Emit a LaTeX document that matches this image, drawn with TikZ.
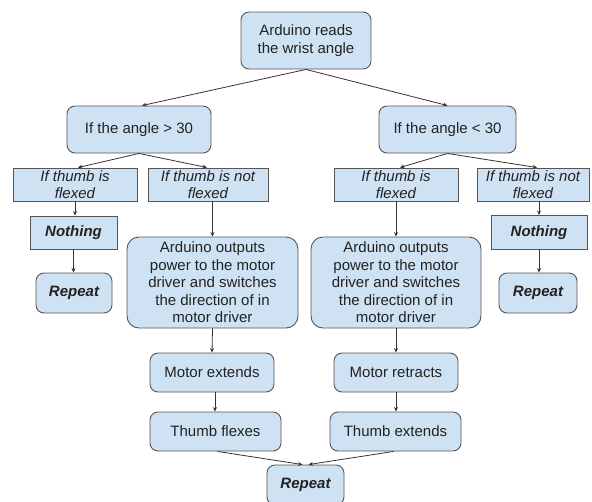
\documentclass[tikz,border=0pt]{standalone}
\usepackage{fontspec}
\setmainfont{Liberation Sans}
\usetikzlibrary{arrows.meta}
\definecolor{boxfill}{HTML}{CFE2F3}
\definecolor{boxline}{HTML}{555555}
\definecolor{txt}{HTML}{222222}
\definecolor{arr}{HTML}{333333}
\tikzset{
  base/.style={draw=boxline, fill=boxfill, line width=0.9pt, text=txt, align=center,
    inner sep=0pt, font=\fontsize{15}{17.5}\selectfont},
  rbox/.style={base, rounded corners=8pt},
  sbox/.style={base},
  sz/.style 2 args={minimum width=#1pt, minimum height=#2pt},
  conn/.style={draw=arr, line width=0.8pt, -{Stealth[length=4.5pt,width=4pt]}}
}
\begin{document}
\begin{tikzpicture}[x=1pt,y=-1pt]
\useasboundingbox (0,0) rectangle (592,501);
\clip (0,0) rectangle (592,501);
\node[rbox, sz={130}{57}] (top) at (306,40.5) {Arduino reads\\the wrist angle};
\node[rbox, sz={144}{47}] (gt) at (139,129.5) {If the angle > 30};
\node[rbox, sz={137}{47}] (lt) at (447.5,129.5) {If the angle < 30};
\node[sbox, sz={124}{33}, font=\fontsize{15}{17.5}\selectfont\itshape] (fl1) at (75,184.5) {If thumb is\\flexed};
\node[sbox, sz={120}{33}, font=\fontsize{15}{17.5}\selectfont\itshape] (nf1) at (208,184.5) {If thumb is not\\flexed};
\node[sbox, sz={124}{33}, font=\fontsize{15}{17.5}\selectfont\itshape] (fl2) at (396,184.5) {If thumb is\\flexed};
\node[sbox, sz={112}{33}, font=\fontsize{15}{17.5}\selectfont\itshape] (nf2) at (533,184.5) {If thumb is not\\flexed};
\node[sbox, sz={87}{33}, font=\fontsize{15}{17.5}\selectfont\bfseries\itshape] (no1) at (73.5,232.5) {Nothing};
\node[sbox, sz={96}{34}, font=\fontsize{15}{17.5}\selectfont\bfseries\itshape] (no2) at (539,232.5) {Nothing};
\node[rbox, sz={76}{40}, font=\fontsize{15}{17.5}\selectfont\bfseries\itshape] (rp1) at (74,293) {Repeat};
\node[rbox, sz={78}{40}, font=\fontsize{15}{17.5}\selectfont\bfseries\itshape] (rp2) at (538,293) {Repeat};
\node[rbox, sz={171}{91}, rounded corners=12pt] (ao1) at (212.5,282.5) {Arduino outputs\\power to the motor\\driver and switches\\the direction of in\\motor driver};
\node[rbox, sz={170}{91}, rounded corners=12pt] (ao2) at (396,282.5) {Arduino outputs\\power to the motor\\driver and switches\\the direction of in\\motor driver};
\node[rbox, sz={124}{39}] (me) at (212,372.5) {Motor extends};
\node[rbox, sz={124}{39}] (mr) at (396,372.5) {Motor retracts};
\node[rbox, sz={131}{39}] (tf) at (215.5,431.5) {Thumb flexes};
\node[rbox, sz={131}{39}] (te) at (395.5,431.5) {Thumb extends};
\node[rbox, sz={77}{40}, font=\fontsize{15}{17.5}\selectfont\bfseries\itshape] (rp3) at (305.5,485) {Repeat};
% connectors
\draw[conn] (top.south) -- ([xshift=3pt]gt.north);
\draw[conn] (top.south) -- (lt.north);
\draw[conn] (gt.south) -- ([xshift=3pt]fl1.north);
\draw[conn] (gt.south) -- ([xshift=-1pt]nf1.north);
\draw[conn] (lt.south) -- ([xshift=4pt]fl2.north);
\draw[conn] (lt.south) -- ([xshift=4pt]nf2.north);
\draw[conn] (fl1.south) -- (fl1.south |- no1.north);
\draw[conn] (no1.south) -- (no1.south |- rp1.north);
\draw[conn] (nf1.south -| ao1.north) -- (ao1.north);
\draw[conn] (fl2.south) -- (ao2.north);
\draw[conn] (nf2.south -| no2.north) -- (no2.north);
\draw[conn] (no2.south) -- (no2.south |- rp2.north);
\draw[conn] (ao1.south) -- (me.north);
\draw[conn] ([xshift=3pt]me.south) -- ([xshift=3pt]me.south |- tf.north);
\draw[conn] (ao2.south) -- (mr.north);
\draw[conn] (mr.south) -- (mr.south |- te.north);
\draw[conn] ([xshift=2pt]tf.south) -- ([xshift=-3pt]rp3.north);
\draw[conn] ([xshift=-2pt]te.south) -- ([xshift=3pt]rp3.north);
\end{tikzpicture}
\end{document}
